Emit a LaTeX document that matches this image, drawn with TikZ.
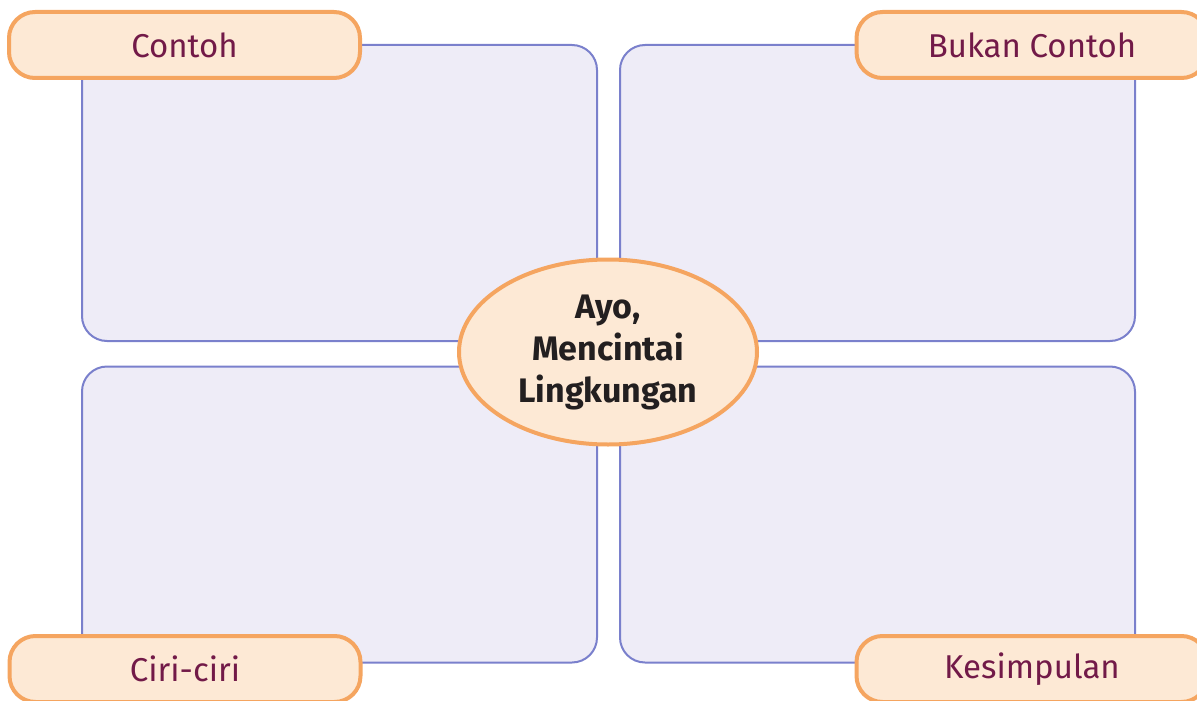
\documentclass[tikz,border=0pt]{standalone}
\usepackage{fontspec}
\setmainfont{Fira Sans}
\usetikzlibrary{shapes.geometric}
\definecolor{boxfill}{HTML}{EEECF7}
\definecolor{boxline}{HTML}{7A80CC}
\definecolor{labfill}{HTML}{FDE9D5}
\definecolor{labline}{HTML}{F5A560}
\definecolor{labtext}{HTML}{721A48}
\definecolor{midtext}{HTML}{231F20}
\tikzset{
  panel/.style={draw=boxline, fill=boxfill, line width=2pt, rounded corners=25pt, minimum width=515pt, minimum height=296pt, inner sep=0pt},
  tag/.style={draw=labline, fill=labfill, line width=4pt, rounded corners=26pt, minimum width=351pt, minimum height=66pt, inner sep=0pt, text=labtext, font=\fontsize{33}{38}\selectfont},
  hub/.style={ellipse, draw=labline, fill=labfill, line width=4pt, minimum width=298pt, minimum height=185pt, inner sep=0pt, text=midtext, align=center, font=\fontsize{34}{42}\selectfont\bfseries}
}
\begin{document}
\begin{tikzpicture}[x=1pt,y=-1pt]
\useasboundingbox (0,0) rectangle (1197,701);
\node[panel] (p1) at (339.5,193) {};
\node[panel] (p2) at (877.5,193) {};
\node[panel] (p3) at (339.5,514.5) {};
\node[panel] (p4) at (877.5,514.5) {};
\node[tag] (t1) at (184.5,45) {Contoh};
\node[tag] (t2) at (1032,45) {Bukan Contoh};
\node[tag] (t3) at (185,669) {Ciri-ciri};
\node[tag] (t4) at (1032,669) {Kesimpulan};
\node[hub] (h) at (608,352) {Ayo,\\Mencintai\\Lingkungan};
\end{tikzpicture}
\end{document}
